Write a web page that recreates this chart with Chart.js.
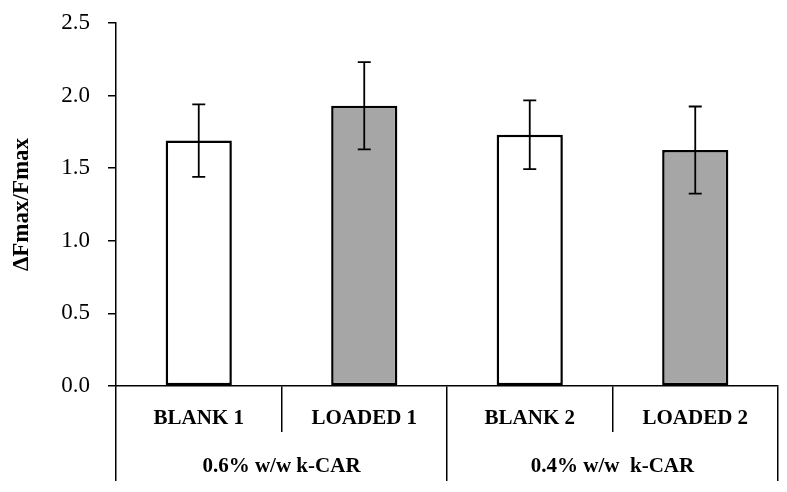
<!DOCTYPE html>
<html>
<head>
<meta charset="utf-8">
<script src="https://cdn.jsdelivr.net/npm/chart.js@4.4.0/dist/chart.umd.min.js"></script>
<style>
  html, body { margin: 0; padding: 0; background: #fff; }
  #wrap { width: 787px; height: 492px; position: relative; }
</style>
</head>
<body>
<div id="wrap"><canvas id="mycanvas"></canvas></div>
<script>
// data
var categories = ["BLANK 1", "LOADED 1", "BLANK 2", "LOADED 2"];
var groups = ["0.6% w/w k-CAR", "0.4% w/w  k-CAR"];
var ratio = [1.69, 1.93, 1.73, 1.625];
var ratioErr = [0.25, 0.30, 0.237, 0.30];
var barColors = ["#ffffff", "#a6a6a6", "#ffffff", "#a6a6a6"];

var serif = "'Liberation Serif', 'Times New Roman', serif";

// simple error bars, drawn through the chart's own scales
var errorBars = {
  id: "errorBars",
  afterDatasetsDraw: function(chart) {
    var ctx = chart.ctx;
    var yScale = chart.scales.y;
    var meta = chart.getDatasetMeta(0);
    ctx.save();
    ctx.strokeStyle = "#000";
    ctx.lineWidth = 1.8;
    meta.data.forEach(function(bar, i) {
      var top = yScale.getPixelForValue(ratio[i] + ratioErr[i]);
      var bot = yScale.getPixelForValue(ratio[i] - ratioErr[i]);
      var cap = 6.5;
      ctx.beginPath();
      ctx.moveTo(bar.x, top); ctx.lineTo(bar.x, bot);
      ctx.moveTo(bar.x - cap, top); ctx.lineTo(bar.x + cap, top);
      ctx.moveTo(bar.x - cap, bot); ctx.lineTo(bar.x + cap, bot);
      ctx.stroke();
    });
    ctx.restore();
  }
};

var ctx = document.getElementById("mycanvas");

var chartdata = {
  labels: categories,
  datasets: [
    {
      label: "ΔFmax/Fmax",
      data: ratio,
      backgroundColor: barColors,
      borderColor: "#000",
      borderWidth: 2.5,
      borderSkipped: false,
      barPercentage: 0.4,
      categoryPercentage: 1.0,
      xAxisID: "x",
      yAxisID: "y"
    }
  ]
};

var BarGraph = new Chart(ctx, {
  type: "bar",
  data: chartdata,
  plugins: [errorBars],
  options: {
    responsive: true,
    maintainAspectRatio: false,
    animation: false,
    layout: { padding: { top: 23, right: 9, bottom: 11, left: 0 } },
    plugins: {
      legend: { display: false },
      tooltip: { enabled: false }
    },
    scales: {
      y: {
        min: 0,
        max: 2.5,
        afterFit: function(scale) { scale.width = 116; scale.paddingTop = 0; scale.paddingBottom = 0; },
        ticks: {
          stepSize: 0.5,
          padding: 18,
          color: "#000",
          font: { family: serif, size: 23 },
          callback: function(v) { return Number(v).toFixed(1); }
        },
        grid: { drawOnChartArea: false, tickLength: 8, color: "#000", lineWidth: 1.5 },
        border: { color: "#000", width: 1.5 },
        title: {
          display: true,
          text: "ΔFmax/Fmax",
          color: "#000",
          font: { family: serif, size: 23, weight: "bold" },
          padding: { top: 8, bottom: 0 }
        }
      },
      x: {
        position: "bottom",
        weight: 0,
        offset: true,
        afterFit: function(scale) { scale.height = 46; },
        ticks: {
          padding: -26,
          color: "#000",
          maxRotation: 0,
          autoSkip: false,
          font: { family: serif, size: 21, weight: "bold" }
        },
        grid: { offset: true, drawOnChartArea: false, tickLength: 46, color: "#000", lineWidth: 1.5 },
        border: { color: "#000", width: 1.5 }
      },
      x2: {
        type: "category",
        position: "bottom",
        weight: 1,
        labels: groups,
        offset: true,
        afterFit: function(scale) { scale.height = 49; },
        ticks: {
          padding: -27,
          color: "#000",
          maxRotation: 0,
          autoSkip: false,
          font: { family: serif, size: 21, weight: "bold" }
        },
        grid: { offset: true, drawOnChartArea: false, tickLength: 49, color: "#000", lineWidth: 1.5 },
        border: { display: false }
      }
    }
  }
});
</script>
</body>
</html>
